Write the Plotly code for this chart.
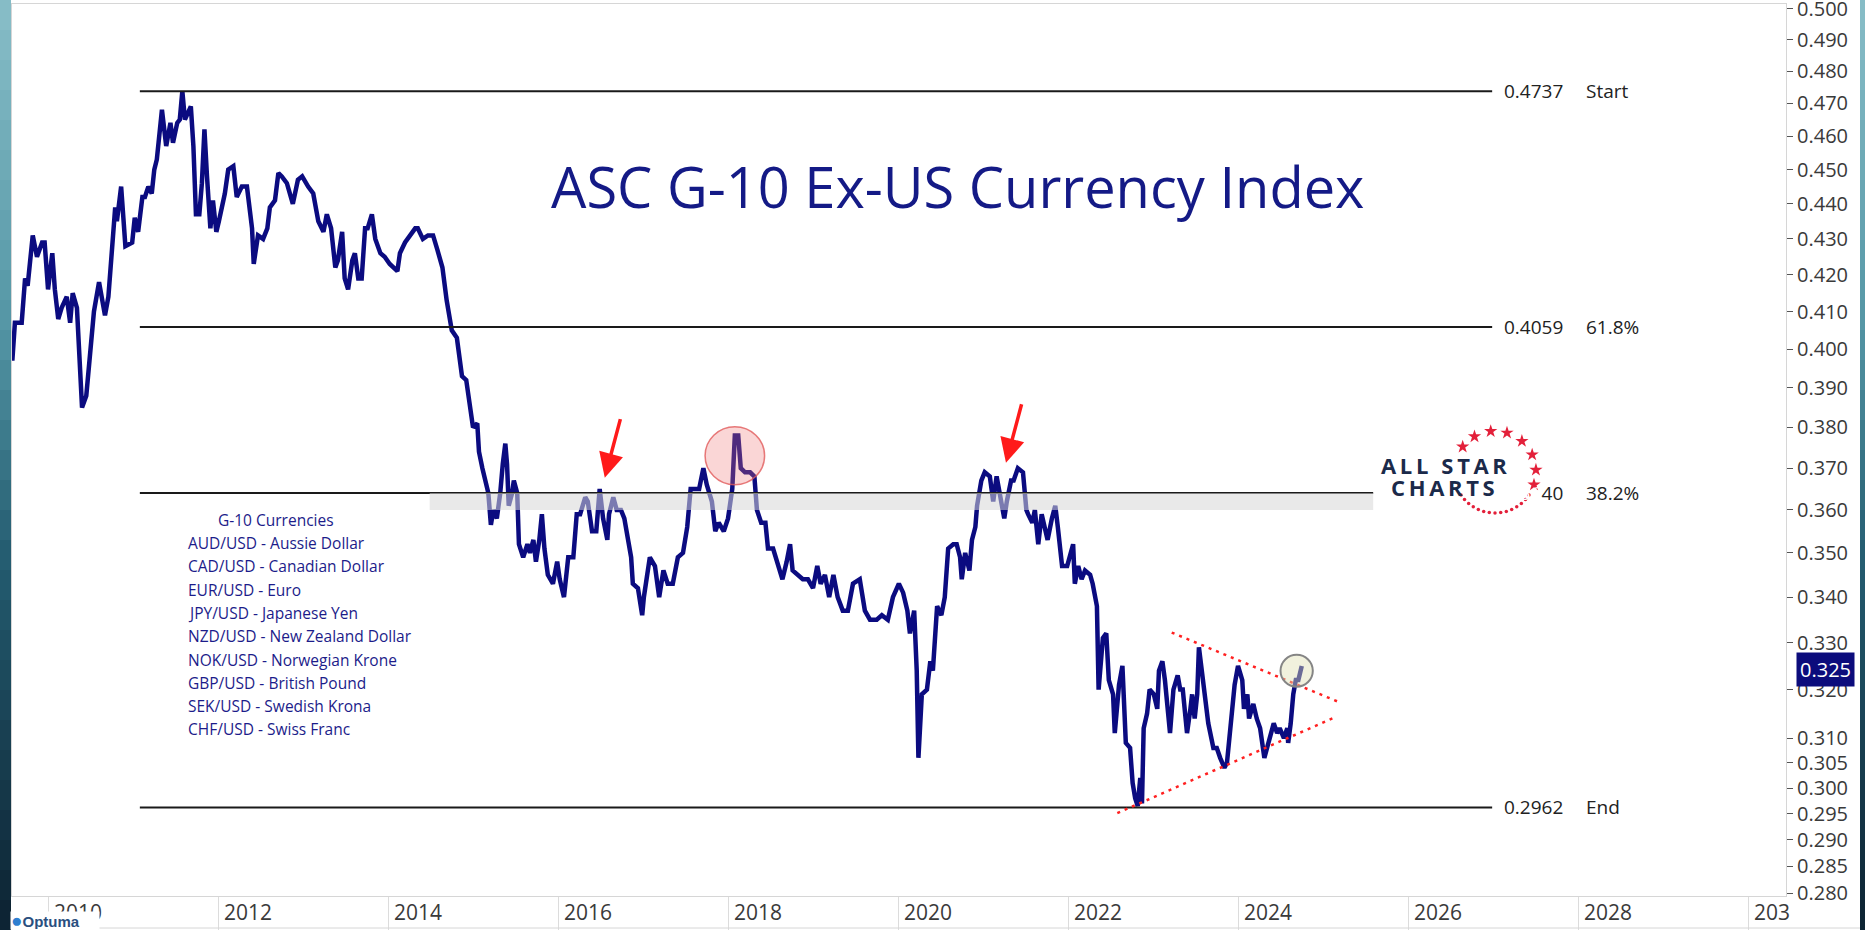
import math
import plotly.graph_objects as go

# weekly-ish readings of the index (decimal year, value)
years = [
    2009.58, 2009.59, 2009.61, 2009.65, 2009.69, 2009.73, 2009.76, 2009.82, 2009.87, 2009.93,
    2009.96, 2010.00, 2010.05, 2010.08, 2010.12, 2010.16, 2010.22, 2010.26, 2010.29, 2010.34,
    2010.40, 2010.45, 2010.48, 2010.54, 2010.60, 2010.67, 2010.71, 2010.79, 2010.81, 2010.86,
    2010.91, 2010.99, 2011.02, 2011.06, 2011.11, 2011.14, 2011.18, 2011.22, 2011.25, 2011.28,
    2011.34, 2011.39, 2011.44, 2011.47, 2011.52, 2011.55, 2011.58, 2011.61, 2011.68, 2011.71,
    2011.74, 2011.78, 2011.81, 2011.84, 2011.87, 2011.91, 2011.94, 2011.98, 2012.01, 2012.08,
    2012.12, 2012.18, 2012.22, 2012.28, 2012.34, 2012.40, 2012.42, 2012.47, 2012.53, 2012.58,
    2012.61, 2012.67, 2012.71, 2012.75, 2012.81, 2012.88, 2012.94, 2012.99, 2013.06, 2013.12,
    2013.18, 2013.24, 2013.28, 2013.33, 2013.38, 2013.41, 2013.46, 2013.49, 2013.53, 2013.58,
    2013.61, 2013.65, 2013.69, 2013.73, 2013.76, 2013.81, 2013.85, 2013.91, 2013.96, 2014.02,
    2014.11, 2014.14, 2014.20, 2014.26, 2014.32, 2014.35, 2014.41, 2014.47, 2014.53, 2014.58,
    2014.64, 2014.69, 2014.75, 2014.81, 2014.87, 2014.92, 2014.96, 2015.00, 2015.05, 2015.07,
    2015.11, 2015.14, 2015.18, 2015.21, 2015.24, 2015.28, 2015.32, 2015.35, 2015.38, 2015.40,
    2015.42, 2015.46, 2015.48, 2015.52, 2015.54, 2015.59, 2015.64, 2015.67, 2015.71, 2015.74,
    2015.78, 2015.81, 2015.84, 2015.88, 2015.94, 2015.99, 2016.02, 2016.07, 2016.12, 2016.18,
    2016.22, 2016.26, 2016.32, 2016.35, 2016.40, 2016.45, 2016.47, 2016.49, 2016.53, 2016.58,
    2016.60, 2016.65, 2016.69, 2016.74, 2016.78, 2016.82, 2016.86, 2016.88, 2016.94, 2016.99,
    2017.01, 2017.08, 2017.14, 2017.19, 2017.24, 2017.29, 2017.35, 2017.41, 2017.47, 2017.52,
    2017.56, 2017.61, 2017.66, 2017.71, 2017.75, 2017.81, 2017.85, 2017.89, 2017.95, 2018.00,
    2018.05, 2018.08, 2018.12, 2018.15, 2018.20, 2018.26, 2018.31, 2018.34, 2018.39, 2018.44,
    2018.47, 2018.53, 2018.58, 2018.64, 2018.69, 2018.73, 2018.76, 2018.82, 2018.88, 2018.94,
    2019.00, 2019.05, 2019.09, 2019.14, 2019.19, 2019.24, 2019.29, 2019.35, 2019.41, 2019.47,
    2019.55, 2019.61, 2019.67, 2019.75, 2019.81, 2019.88, 2019.94, 2020.01, 2020.06, 2020.11,
    2020.14, 2020.19, 2020.22, 2020.24, 2020.28, 2020.34, 2020.38, 2020.41, 2020.44, 2020.46,
    2020.51, 2020.55, 2020.59, 2020.65, 2020.69, 2020.73, 2020.75, 2020.79, 2020.84, 2020.87,
    2020.91, 2020.93, 2020.98, 2021.02, 2021.08, 2021.12, 2021.16, 2021.20, 2021.25, 2021.28,
    2021.33, 2021.36, 2021.41, 2021.47, 2021.51, 2021.53, 2021.58, 2021.61, 2021.65, 2021.69,
    2021.73, 2021.76, 2021.81, 2021.85, 2021.88, 2021.93, 2021.99, 2022.04, 2022.06, 2022.08,
    2022.12, 2022.16, 2022.20, 2022.26, 2022.29, 2022.34, 2022.36, 2022.41, 2022.45, 2022.48,
    2022.53, 2022.55, 2022.60, 2022.64, 2022.66, 2022.68, 2022.73, 2022.76, 2022.79, 2022.82,
    2022.85, 2022.87, 2022.89, 2022.93, 2022.96, 2023.01, 2023.05, 2023.07, 2023.11, 2023.14,
    2023.20, 2023.24, 2023.29, 2023.32, 2023.35, 2023.38, 2023.40, 2023.44, 2023.46, 2023.49,
    2023.52, 2023.54, 2023.58, 2023.61, 2023.65, 2023.71, 2023.75, 2023.79, 2023.84, 2023.87,
    2023.91, 2023.94, 2023.96, 2024.00, 2024.05, 2024.07, 2024.11, 2024.13, 2024.18, 2024.22,
    2024.26, 2024.31, 2024.34, 2024.38, 2024.42, 2024.46, 2024.49, 2024.54, 2024.58, 2024.59,
    2024.62, 2024.65, 2024.68, 2024.71, 2024.75,
]
index_values = [
    0.397, 0.400, 0.407, 0.407, 0.407, 0.419, 0.417, 0.431, 0.425, 0.429,
    0.429, 0.416, 0.426, 0.416, 0.408, 0.411, 0.414, 0.407, 0.415, 0.411,
    0.385, 0.388, 0.396, 0.410, 0.418, 0.409, 0.414, 0.439, 0.435, 0.445,
    0.428, 0.429, 0.436, 0.432, 0.442, 0.442, 0.445, 0.443, 0.450, 0.453,
    0.468, 0.457, 0.464, 0.458, 0.464, 0.465, 0.4737, 0.465, 0.469, 0.457,
    0.437, 0.437, 0.446, 0.462, 0.448, 0.433, 0.441, 0.432, 0.435, 0.443,
    0.450, 0.451, 0.442, 0.445, 0.445, 0.433, 0.423, 0.431, 0.430, 0.433,
    0.439, 0.441, 0.449, 0.448, 0.446, 0.440, 0.447, 0.448, 0.445, 0.443,
    0.435, 0.432, 0.437, 0.433, 0.422, 0.424, 0.432, 0.419, 0.416, 0.424,
    0.426, 0.419, 0.419, 0.433, 0.433, 0.437, 0.430, 0.426, 0.425, 0.423,
    0.421, 0.426, 0.429, 0.431, 0.433, 0.433, 0.430, 0.431, 0.431, 0.427,
    0.422, 0.413, 0.405, 0.403, 0.393, 0.392, 0.385, 0.380, 0.381, 0.374,
    0.370, 0.367, 0.364, 0.3565, 0.360, 0.358, 0.364, 0.371, 0.376, 0.371,
    0.361, 0.364, 0.367, 0.364, 0.352, 0.349, 0.352, 0.350, 0.353, 0.348,
    0.353, 0.359, 0.351, 0.345, 0.343, 0.348, 0.344, 0.340, 0.349, 0.349,
    0.359, 0.359, 0.363, 0.362, 0.355, 0.355, 0.362, 0.365, 0.358, 0.353,
    0.359, 0.363, 0.360, 0.360, 0.358, 0.353, 0.349, 0.343, 0.342, 0.336,
    0.340, 0.349, 0.347, 0.340, 0.346, 0.343, 0.343, 0.349, 0.350, 0.356,
    0.365, 0.365, 0.365, 0.370, 0.366, 0.362, 0.355, 0.357, 0.355, 0.358,
    0.365, 0.378, 0.378, 0.370, 0.369, 0.369, 0.368, 0.360, 0.357, 0.357,
    0.351, 0.351, 0.348, 0.344, 0.348, 0.352, 0.346, 0.345, 0.344, 0.344,
    0.342, 0.347, 0.343, 0.345, 0.340, 0.345, 0.340, 0.337, 0.337, 0.343,
    0.344, 0.337, 0.335, 0.335, 0.336, 0.335, 0.340, 0.343, 0.341, 0.337,
    0.332, 0.337, 0.324, 0.306, 0.319, 0.320, 0.326, 0.324, 0.331, 0.338,
    0.336, 0.340, 0.351, 0.352, 0.352, 0.349, 0.344, 0.350, 0.346, 0.353,
    0.356, 0.361, 0.367, 0.369, 0.368, 0.362, 0.368, 0.364, 0.358, 0.362,
    0.367, 0.367, 0.370, 0.369, 0.360, 0.359, 0.357, 0.360, 0.352, 0.359,
    0.356, 0.353, 0.358, 0.361, 0.356, 0.347, 0.347, 0.350, 0.352, 0.343,
    0.347, 0.344, 0.346, 0.345, 0.343, 0.338, 0.320, 0.331, 0.332, 0.322,
    0.319, 0.311, 0.321, 0.325, 0.317, 0.309, 0.308, 0.301, 0.298, 0.2965,
    0.302, 0.297, 0.312, 0.315, 0.320, 0.319, 0.316, 0.324, 0.326, 0.322,
    0.311, 0.320, 0.323, 0.320, 0.320, 0.313, 0.311, 0.316, 0.319, 0.314,
    0.319, 0.329, 0.323, 0.317, 0.313, 0.308, 0.308, 0.306, 0.304, 0.305,
    0.313, 0.317, 0.321, 0.325, 0.322, 0.316, 0.319, 0.314, 0.317, 0.314,
    0.312, 0.306, 0.308, 0.310, 0.313, 0.311, 0.312, 0.310, 0.312, 0.309,
    0.313, 0.319, 0.322, 0.322, 0.325,
]

# Fibonacci retracement levels
fib_levels = [0.4737, 0.4059, 0.3640, 0.2962]
fib_names = ["Start", "61.8%", "38.2%", "End"]
fib_start, fib_end = 2011.08, 2026.99

# resistance band (the logo hides the rest of the 38.2% line)
band_low, band_high = 0.360, 0.364
band_start, band_end = 2014.49, 2025.59

# annotations on the data
arrow_heads = [(2016.55, 0.3677), (2021.27, 0.3713)]
circle_big = [(2017.73, 0.3660), (2018.43, 0.3802)]
circle_small = [(2024.50, 0.3206), (2024.88, 0.3274)]
upper_trend = [(2023.22, 0.3322), (2025.20, 0.3173)]
lower_trend = [(2022.58, 0.2951), (2025.16, 0.3144)]

y_ticks = [0.500, 0.490, 0.480, 0.470, 0.460, 0.450, 0.440, 0.430, 0.420, 0.410,
           0.400, 0.390, 0.380, 0.370, 0.360, 0.350, 0.340, 0.330, 0.320, 0.310,
           0.305, 0.300, 0.295, 0.290, 0.285, 0.280]
x_ticks = [2010, 2012, 2014, 2016, 2018, 2020, 2022, 2024, 2026, 2028, 2030]
x_tick_text = ["2010", "2012", "2014", "2016", "2018", "2020", "2022", "2024", "2026", "2028", "203"]

currencies = [
    "AUD/USD - Aussie Dollar",
    "CAD/USD - Canadian Dollar",
    "EUR/USD - Euro",
    "JPY/USD - Japanese Yen",
    "NZD/USD - New Zealand Dollar",
    "NOK/USD - Norwegian Krone",
    "GBP/USD - British Pound",
    "SEK/USD - Swedish Krona",
    "CHF/USD - Swiss Franc",
]

W, H = 1865, 930
L, R, T, B = 12, 79, 4, 34
NAVY = "#0b0b80"


def px(x):
    return (x - L) / (W - L - R)


def py(y):
    return (H - B - y) / (H - T - B)


fig = go.Figure()
fig.add_trace(go.Scatter(x=years, y=index_values, mode="lines",
                         line=dict(color=NAVY, width=4.5), hoverinfo="skip"))

# star ring of the logo, drawn on a hidden pixel-space overlay
star_angles = [142, 120, 96, 73, 49, 25, 3, -18]
dot_angles = [-34, -42, -50, -58, -66, -74, -82, -90, -98, -106, -114, -122, -130, -138, -146]
cx, cy, rad = 1495, 472, 41
fig.add_trace(go.Scatter(
    x=[cx + rad * math.cos(math.radians(a)) for a in star_angles],
    y=[cy - rad * math.sin(math.radians(a)) for a in star_angles],
    mode="markers", marker=dict(symbol="star", size=10, color="#e3203a", line=dict(width=0)),
    xaxis="x2", yaxis="y2", hoverinfo="skip"))
fig.add_trace(go.Scatter(
    x=[cx + rad * math.cos(math.radians(a)) for a in dot_angles],
    y=[cy - rad * math.sin(math.radians(a)) for a in dot_angles],
    mode="markers", marker=dict(symbol="circle", size=3.5, color="#e3203a", line=dict(width=0)),
    xaxis="x2", yaxis="y2", hoverinfo="skip"))

shapes = []


# side strips of the window frame
def strip_color(t):
    stops = [(0.0, (136, 190, 200)), (0.35, (84, 150, 165)), (0.6, (36, 92, 112)), (1.0, (12, 34, 50))]
    for (t0, c0), (t1, c1) in zip(stops[:-1], stops[1:]):
        if t <= t1:
            f = (t - t0) / (t1 - t0)
            return "rgb(%d,%d,%d)" % tuple(round(a + (b - a) * f) for a, b in zip(c0, c1))
    return "rgb(12,34,50)"


for i in range(31):
    y0, y1 = i * 30, (i + 1) * 30
    col = strip_color((y0 + 15) / H)
    for xa, xb in [(0, 11), (1860, 1866)]:
        shapes.append(dict(type="rect", xref="paper", yref="paper", x0=px(xa), x1=px(xb),
                           y0=py(y1), y1=py(y0), fillcolor=col, line=dict(width=0), layer="below"))

shapes.append(dict(type="line", xref="paper", yref="paper", x0=px(12), x1=px(1860),
                   y0=py(928), y1=py(928), line=dict(color="#d6d6d6", width=1)))

for lvl in fib_levels:
    x_end = band_end if lvl == band_high else fib_end
    shapes.append(dict(type="line", xref="x", yref="y", x0=fib_start, x1=x_end, y0=lvl, y1=lvl,
                       line=dict(color="#1a1a1a", width=2)))

shapes.append(dict(type="rect", xref="x", yref="y", x0=band_start, x1=band_end, y0=band_low, y1=band_high,
                   fillcolor="rgba(215,215,215,0.55)", line=dict(width=0), layer="above"))

for (xa, ya), (xb, yb) in [upper_trend, lower_trend]:
    shapes.append(dict(type="line", xref="x", yref="y", x0=xa, y0=ya, x1=xb, y1=yb,
                       line=dict(color="#ff2020", width=2.5, dash="3px,5px")))

(bx0, by0), (bx1, by1) = circle_big
shapes.append(dict(type="circle", xref="x", yref="y", x0=bx0, x1=bx1, y0=by0, y1=by1,
                   fillcolor="rgba(240,120,120,0.3)", line=dict(color="rgba(225,90,90,0.8)", width=1.5),
                   layer="above"))
(sx0, sy0), (sx1, sy1) = circle_small
shapes.append(dict(type="circle", xref="x", yref="y", x0=sx0, x1=sx1, y0=sy0, y1=sy1,
                   fillcolor="rgba(225,225,180,0.45)", line=dict(color="#858585", width=2),
                   layer="above"))

ann = []
ann.append(dict(xref="paper", yref="paper", x=px(549), y=py(186), xanchor="left", yanchor="middle",
                text="ASC G-10 Ex-US Currency Index", showarrow=False,
                font=dict(family="Open Sans", size=56, color="#141a86")))

ann.append(dict(xref="paper", yref="paper", x=px(216), y=py(520), xanchor="left", yanchor="middle",
                text="G-10 Currencies", showarrow=False,
                font=dict(family="Open Sans", size=15.5, color="#1c1c8a")))
for i, name in enumerate(currencies):
    ann.append(dict(xref="paper", yref="paper", x=px(186), y=py(543 + 23.3 * i), xanchor="left",
                    yanchor="middle", text=name, showarrow=False,
                    font=dict(family="Open Sans", size=15.5, color="#1c1c8a")))

for lvl, name in zip(fib_levels, fib_names):
    label = f"{lvl:.4f}"
    if lvl == band_high:
        # the front of this value sits under the logo
        label = f"<span style='color:white'>{label[:4]}</span>{label[4:]}"
    ann.append(dict(xref="x", yref="y", x=fib_end, y=math.log10(lvl), xshift=10, xanchor="left",
                    yanchor="middle", text=label, showarrow=False,
                    font=dict(family="Open Sans", size=19, color="#222222")))
    ann.append(dict(xref="x", yref="y", x=fib_end, y=math.log10(lvl), xshift=92, xanchor="left",
                    yanchor="middle", text=name, showarrow=False,
                    font=dict(family="Open Sans", size=19, color="#222222")))

for hx, hy in arrow_heads:
    ann.append(dict(xref="x", yref="y", x=hx, y=math.log10(hy), ax=16, ay=-60, text="",
                    showarrow=True, arrowhead=2, arrowsize=1.4, arrowwidth=3.5, arrowcolor="#ff1a1a",
                    standoff=0))

ann.append(dict(xref="paper", yref="paper", x=px(1444), y=py(465), xanchor="center", yanchor="middle",
                text="A\u2009L\u2009L\u2009 \u2009S\u2009T\u2009A\u2009R", showarrow=False,
                font=dict(family="Open Sans", size=22, color="#1b2a4a", weight="bold")))
ann.append(dict(xref="paper", yref="paper", x=px(1443), y=py(487), xanchor="center", yanchor="middle",
                text="C\u2009H\u2009A\u2009R\u2009T\u2009S", showarrow=False,
                font=dict(family="Open Sans", size=22, color="#1b2a4a", weight="bold")))

ann.append(dict(xref="paper", yref="y", x=px(1796), y=math.log10(index_values[-1]), yshift=-4,
                xanchor="left", yanchor="middle", text=f"{index_values[-1]:.3f}", showarrow=False,
                bgcolor="#0c0c7c", borderpad=3, font=dict(family="Open Sans", size=20, color="white")))

ann.append(dict(xref="paper", yref="paper", x=px(10), y=py(930), xanchor="left", yanchor="bottom",
                text="<span style='color:#2f7fd0;font-size:19px'>●</span><b>Optuma</b>", showarrow=False,
                bgcolor="white", width=88, height=17, align="left", borderpad=0,
                font=dict(family="Liberation Sans", size=15, color="#2a4f7f")))

fig.update_layout(
    width=W, height=H, margin=dict(l=L, r=R, t=T, b=B),
    paper_bgcolor="white", plot_bgcolor="white", showlegend=False,
    shapes=shapes, annotations=ann,
    xaxis2=dict(overlaying="x", range=[L, W - R], visible=False),
    yaxis2=dict(overlaying="y", range=[H - B, T], visible=False),
)
fig.layout.xaxis.update(range=[2009.576, 2030.447], tickmode="array", tickvals=x_ticks, ticktext=x_tick_text,
                        ticks="outside", ticklen=34, tickcolor="#dcdcdc", tickwidth=1,
                        ticklabelposition="outside right", ticklabelstandoff=-2, ticklabelshift=5,
                        ticklabeloverflow="allow",
                        tickfont=dict(family="Open Sans", size=21, color="#3a3a3a"),
                        showgrid=False, zeroline=False, showline=True, linecolor="#d6d6d6", mirror=True,
                        automargin=False)
fig.layout.yaxis.update(type="log", side="right", range=[math.log10(0.2795), math.log10(0.5016)],
                        tickmode="array", tickvals=y_ticks, ticktext=[f"{v:.3f}" for v in y_ticks],
                        ticks="outside", ticklen=6, tickcolor="#555555", ticklabeloverflow="allow",
                        tickfont=dict(family="Open Sans", size=20, color="#3a3a3a"),
                        showgrid=False, zeroline=False, showline=True, linecolor="#d6d6d6", mirror=True,
                        automargin=False)

fig.write_html("out.html", config={"displayModeBar": False},
               post_script="document.body.style.margin='0';document.body.style.overflow='hidden';")
